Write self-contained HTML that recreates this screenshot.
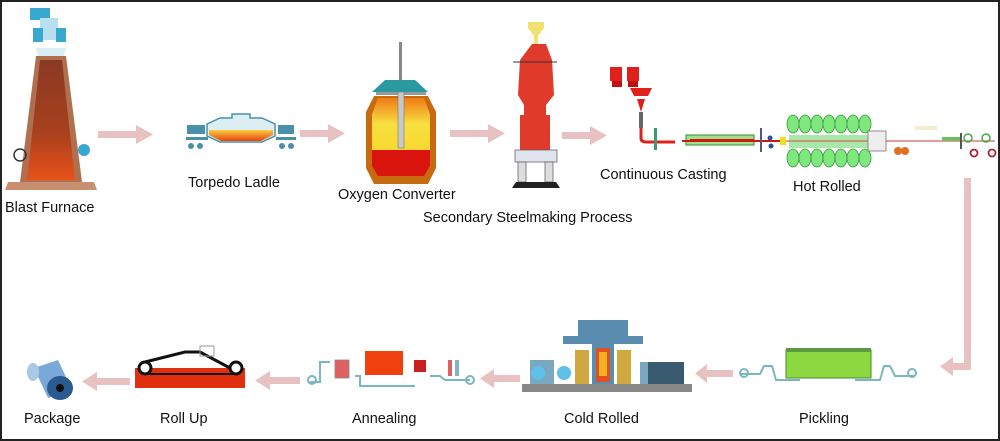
<!DOCTYPE html>
<html><head><meta charset="utf-8"><style>
html,body{margin:0;padding:0;background:#fff;}
svg{display:block;}
text{font-family:"Liberation Sans",sans-serif;font-size:14.5px;fill:#111;}
</style></head><body>
<svg width="1000" height="441" viewBox="0 0 1000 441" xmlns="http://www.w3.org/2000/svg">
<defs>
<linearGradient id="bf" x1="0" y1="0" x2="0" y2="1"><stop offset="0" stop-color="#8a3a22"/><stop offset="0.6" stop-color="#a8401e"/><stop offset="1" stop-color="#e8521a"/></linearGradient>
<linearGradient id="cv" x1="0" y1="0" x2="0" y2="1"><stop offset="0" stop-color="#f07a18"/><stop offset="0.5" stop-color="#f8e040"/><stop offset="1" stop-color="#f8d830"/></linearGradient>
<linearGradient id="tl" x1="0" y1="0" x2="0" y2="1"><stop offset="0" stop-color="#f8d040"/><stop offset="1" stop-color="#e84010"/></linearGradient>
</defs>
<rect x="1" y="1" width="998" height="439" fill="#fff" stroke="#222" stroke-width="2"/>

<!-- Blast furnace -->
<g>
<rect x="30" y="8" width="20" height="12" fill="#39a8d0"/>
<rect x="40" y="18" width="18" height="22" fill="#b8e0ee"/>
<rect x="33" y="28" width="10" height="14" fill="#39a8d0"/>
<rect x="56" y="28" width="10" height="14" fill="#39a8d0"/>
<polygon points="36,48 66,48 64,56 38,56" fill="#d8eef4"/>
<polygon points="36,56 66,56 82,182 20,182" fill="#b07050"/>
<polygon points="40,60 62,60 75,180 27,180" fill="url(#bf)"/>
<polygon points="8,182 94,182 97,190 5,190" fill="#c89070"/>
<circle cx="20" cy="155" r="6" fill="none" stroke="#333" stroke-width="1.5"/>
<circle cx="84" cy="150" r="6" fill="#39a8d0"/>
</g>

<!-- arrows -->
<g fill="#e8c2c2">
<rect x="98" y="131" width="40" height="7"/><polygon points="136,125 153,134.5 136,144"/>
<rect x="300" y="130" width="30" height="7"/><polygon points="328,124 345,133.5 328,143"/>
<rect x="450" y="130" width="40" height="7"/><polygon points="488,124 505,133.5 488,143"/>
<rect x="562" y="132" width="30" height="7"/><polygon points="590,126 607,135.5 590,145"/>
<rect x="964" y="178" width="7" height="192"/><rect x="950" y="363" width="21" height="7"/><polygon points="953,357 940,366.5 953,376"/>
<rect x="705" y="370" width="28" height="7"/><polygon points="707,364 695,373.5 707,383"/>
<rect x="492" y="375" width="28" height="7"/><polygon points="494,369 480,378.5 494,388"/>
<rect x="268" y="377" width="32" height="7"/><polygon points="270,371 255,380.5 270,390"/>
<rect x="95" y="378" width="35" height="7"/><polygon points="97,372 82,381.5 97,391"/>
</g>

<!-- Torpedo ladle -->
<g>
<rect x="187" y="125" width="18" height="9" fill="#4a90a8"/><rect x="186" y="137" width="22" height="3" fill="#4a90a8"/>
<circle cx="191" cy="146" r="3" fill="#4a90a8"/><circle cx="200" cy="146" r="3" fill="#4a90a8"/>
<rect x="278" y="125" width="16" height="9" fill="#4a90a8"/><rect x="276" y="137" width="20" height="3" fill="#4a90a8"/>
<circle cx="282" cy="146" r="3" fill="#4a90a8"/><circle cx="291" cy="146" r="3" fill="#4a90a8"/>
<polygon points="207,124 220,118 232,118 232,114 250,114 250,118 262,118 275,124 275,136 262,142 220,142 207,136" fill="#dceef2" stroke="#4a90a8" stroke-width="1.5"/>
<polygon points="209,130 273,130 273,135 261,141 221,141 209,135" fill="url(#tl)"/>
</g>

<!-- Oxygen converter -->
<g>
<rect x="399" y="42" width="3" height="48" fill="#888"/>
<polygon points="385,80 415,80 428,92 372,92" fill="#2a9aa0"/>
<rect x="376" y="92" width="50" height="3" fill="#999"/>
<polygon points="374,96 428,96 436,112 436,168 428,184 374,184 366,168 366,112" fill="#c86a10"/>
<polygon points="378,98 424,98 430,114 430,150 372,150 372,114" fill="url(#cv)"/>
<polygon points="372,150 430,150 430,166 424,176 378,176 372,166" fill="#d8140c"/>
<rect x="398" y="92" width="6" height="56" fill="#c8c8c8" stroke="#777" stroke-width="0.6"/>
</g>

<!-- Secondary -->
<g>
<polygon points="528,22 544,22 544,28 538,36 538,44 534,44 534,36 528,28" fill="#f0e070"/>
<polygon points="532,44 546,44 552,60 554,95 546,105 546,115 540,130 530,130 524,115 524,105 518,95 520,60" fill="#e03a2a"/>
<line x1="513" y1="62" x2="557" y2="62" stroke="#333" stroke-width="1"/>
<polygon points="520,115 550,115 550,150 520,150" fill="#e03a2a"/>
<rect x="515" y="150" width="42" height="12" fill="#e0e4ee" stroke="#666" stroke-width="0.8"/>
<rect x="518" y="162" width="8" height="20" fill="#ddd" stroke="#666" stroke-width="0.8"/>
<rect x="545" y="162" width="8" height="20" fill="#ddd" stroke="#666" stroke-width="0.8"/>
<polygon points="512,188 516,182 556,182 560,188" fill="#222"/>
</g>

<!-- Continuous casting -->
<g>
<rect x="610" y="67" width="12" height="14" fill="#e0201a"/><rect x="627" y="67" width="12" height="14" fill="#e0201a"/>
<rect x="612" y="81" width="10" height="6" fill="#c01010"/><rect x="628" y="81" width="10" height="6" fill="#c01010"/>
<polygon points="630,88 652,88 648,96 634,96" fill="#e0201a"/>
<polygon points="637,99 645,99 641,112" fill="#e0201a"/>
<rect x="639" y="112" width="4" height="16" fill="#666"/>
<path d="M641 128 L641 138 Q641 142 646 142 L675 142" fill="none" stroke="#e0201a" stroke-width="3"/>
<rect x="654" y="128" width="3" height="22" fill="#3a9a70"/>
<rect x="686" y="135" width="68" height="10" fill="#9ce08a" stroke="#3a8a3a" stroke-width="1"/>
<rect x="690" y="139" width="64" height="3" fill="#d01810"/>
<line x1="682" y1="141" x2="785" y2="141" stroke="#d01810" stroke-width="2"/>
<rect x="760" y="128" width="2" height="24" fill="#558"/>
<circle cx="770" cy="138" r="2.5" fill="#2a50a0"/><circle cx="771" cy="146" r="2.5" fill="#2a50a0"/>
<rect x="780" y="137" width="6" height="8" fill="#f0e020"/>
</g>

<!-- Hot rolled -->
<g fill="#7ee87e" stroke="#3a9a3a" stroke-width="0.8">
<ellipse cx="793" cy="124" rx="6" ry="9"/><ellipse cx="805" cy="124" rx="6" ry="9"/><ellipse cx="817" cy="124" rx="6" ry="9"/><ellipse cx="829" cy="124" rx="6" ry="9"/><ellipse cx="841" cy="124" rx="6" ry="9"/><ellipse cx="853" cy="124" rx="6" ry="9"/><ellipse cx="865" cy="124" rx="6" ry="9"/>
<ellipse cx="793" cy="158" rx="6" ry="9"/><ellipse cx="805" cy="158" rx="6" ry="9"/><ellipse cx="817" cy="158" rx="6" ry="9"/><ellipse cx="829" cy="158" rx="6" ry="9"/><ellipse cx="841" cy="158" rx="6" ry="9"/><ellipse cx="853" cy="158" rx="6" ry="9"/><ellipse cx="865" cy="158" rx="6" ry="9"/>
<rect x="789" y="135" width="80" height="13" fill="#a8e8a8" stroke="none"/>
</g>
<line x1="786" y1="141" x2="995" y2="141" stroke="#d86060" stroke-width="1.2"/>
<rect x="868" y="131" width="18" height="20" fill="#eee" stroke="#777" stroke-width="0.8"/>
<circle cx="898" cy="151" r="4" fill="#e07020"/><circle cx="905" cy="151" r="4" fill="#e07020"/>
<rect x="915" y="126" width="22" height="4" fill="#f4ecd0"/>
<rect x="942" y="137" width="18" height="4" fill="#6cc060"/>
<rect x="960" y="133" width="2" height="16" fill="#555"/>
<circle cx="968" cy="138" r="4" fill="none" stroke="#4a4" stroke-width="1.5"/>
<circle cx="986" cy="138" r="4" fill="none" stroke="#4a4" stroke-width="1.5"/>
<circle cx="974" cy="153" r="3.5" fill="none" stroke="#b02030" stroke-width="1.8"/>
<circle cx="992" cy="153" r="3.5" fill="none" stroke="#b02030" stroke-width="1.8"/>

<!-- Pickling -->
<g>
<rect x="786" y="350" width="85" height="28" fill="#8cd840" stroke="#4a8a30" stroke-width="1"/>
<rect x="786" y="348" width="85" height="4" fill="#5a9a40"/>
<path d="M740 374 L760 374 L764 366 L772 366 L776 380 L800 380 M855 380 L880 380 L884 366 L890 366 L895 376 L915 376" fill="none" stroke="#7ab8c0" stroke-width="2"/>
<circle cx="744" cy="373" r="4" fill="none" stroke="#7ab8c0" stroke-width="2"/>
<circle cx="912" cy="373" r="4" fill="none" stroke="#7ab8c0" stroke-width="2"/>
</g>

<!-- Cold rolled -->
<g>
<rect x="578" y="320" width="50" height="16" fill="#5a8cb0"/>
<rect x="563" y="336" width="80" height="8" fill="#5a8cb0"/>
<rect x="592" y="344" width="22" height="45" fill="#5a8cb0"/>
<rect x="596" y="348" width="14" height="34" fill="#e05020"/>
<rect x="599" y="352" width="8" height="24" fill="#f0b020"/>
<rect x="530" y="360" width="24" height="26" fill="#7aa8c0"/>
<circle cx="538" cy="373" r="7" fill="#60c0e8"/><circle cx="564" cy="373" r="7" fill="#60c0e8"/>
<rect x="575" y="350" width="14" height="36" fill="#d0a840"/>
<rect x="617" y="350" width="14" height="36" fill="#d0a840"/>
<rect x="640" y="362" width="14" height="24" fill="#7aa8c0"/>
<rect x="648" y="362" width="36" height="22" fill="#3a5a70"/>
<rect x="522" y="384" width="170" height="8" fill="#888"/>
</g>

<!-- Annealing -->
<g>
<rect x="365" y="351" width="38" height="24" fill="#f04010"/>
<rect x="414" y="360" width="12" height="12" fill="#c82020"/>
<rect x="335" y="360" width="14" height="18" fill="#e06060" stroke="#888" stroke-width="0.8"/>
<path d="M310 382 L320 382 L320 362 L330 362 M355 376 L360 376 L360 386 L415 386 M430 376 L440 376 L445 380 L470 380" fill="none" stroke="#7ab8c0" stroke-width="2"/>
<circle cx="312" cy="380" r="4" fill="none" stroke="#7ab8c0" stroke-width="2"/>
<circle cx="470" cy="380" r="4" fill="none" stroke="#7ab8c0" stroke-width="2"/>
<rect x="448" y="360" width="4" height="16" fill="#e06060"/><rect x="455" y="360" width="4" height="16" fill="#7ab8c0"/>
</g>

<!-- Roll up -->
<g>
<rect x="135" y="368" width="110" height="20" fill="#e03010"/>
<path d="M145 362 L185 352 L200 352 L230 368" fill="none" stroke="#111" stroke-width="3"/>
<path d="M145 374 L235 374" stroke="#111" stroke-width="2"/>
<circle cx="145" cy="368" r="6" fill="#fff" stroke="#111" stroke-width="3"/>
<circle cx="236" cy="368" r="6" fill="#fff" stroke="#111" stroke-width="3"/>
<rect x="200" y="346" width="14" height="10" fill="none" stroke="#999" stroke-width="1"/>
</g>

<!-- Package -->
<g>
<polygon points="34,368 58,360 72,390 48,398" fill="#7aa8d8"/>
<ellipse cx="60" cy="388" rx="13" ry="12" fill="#2a5a90"/>
<ellipse cx="60" cy="388" rx="4" ry="4" fill="#111"/>
<ellipse cx="33" cy="372" rx="6" ry="9" fill="#a8c8e8"/>
</g>

<!-- labels -->
<text x="5" y="212">Blast Furnace</text>
<text x="188" y="187">Torpedo Ladle</text>
<text x="338" y="199">Oxygen Converter</text>
<text x="423" y="222">Secondary Steelmaking Process</text>
<text x="600" y="179">Continuous Casting</text>
<text x="793" y="191">Hot Rolled</text>
<text x="24" y="423">Package</text>
<text x="160" y="423">Roll Up</text>
<text x="352" y="423">Annealing</text>
<text x="564" y="423">Cold Rolled</text>
<text x="799" y="423">Pickling</text>
</svg>
</body></html>
